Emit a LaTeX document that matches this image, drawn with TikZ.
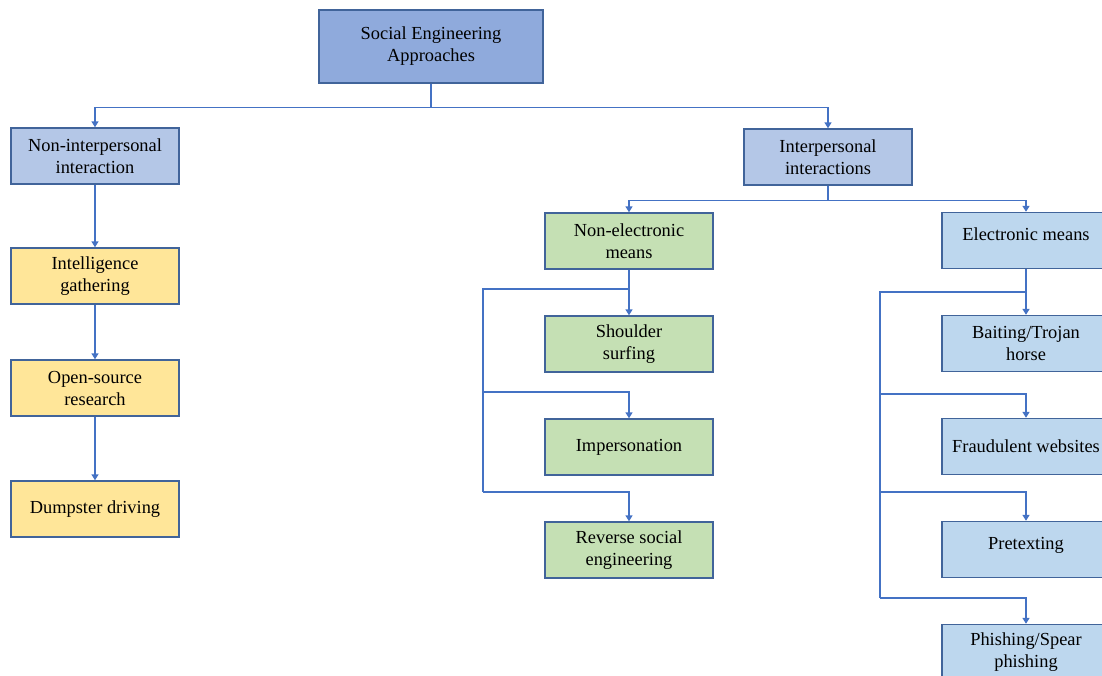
\documentclass[tikz,border=0pt]{standalone}
\usepackage{fontspec}
\setmainfont{Liberation Serif}
\usetikzlibrary{arrows.meta}

\definecolor{rootfill}{HTML}{8FAADC}
\definecolor{bluefill}{HTML}{B4C7E7}
\definecolor{yellowfill}{HTML}{FFE699}
\definecolor{greenfill}{HTML}{C5E0B4}
\definecolor{lightfill}{HTML}{BDD7EE}
\definecolor{edge}{HTML}{4472C4}
\definecolor{border}{HTML}{41649A}

\begin{document}
\begin{tikzpicture}[
    x=0.5pt, y={(0,-0.5pt)},
    font=\fontsize{9.2}{11}\selectfont,
    node distance=51.5pt,
    box/.style={
        rectangle,
        draw=border,
        line width=0.7pt,
        minimum width=84pt,
        minimum height=28pt,
        inner sep=2pt,
        align=center
    },
    line/.style={draw=edge, line width=0.7pt},
    arrow/.style={line, -{Triangle[width=3.5pt,length=3pt]}}
]
\useasboundingbox (0,0) rectangle (1102,675);
\clip (0,0) rectangle (1102,675);

% Nodes
\node[box, fill=rootfill, minimum width=112pt, minimum height=36.5pt] (SE) at (431,46.5) {Social Engineering\\ Approaches};
\node[box, fill=bluefill] (NI) at (95,156) {Non-interpersonal\\ interaction};
\node[box, fill=bluefill] (IP) at (828,157) {Interpersonal\\ interactions};

\node[box, fill=yellowfill, below of=NI, node distance=60pt] (IG) {Intelligence\\ gathering};
\node[box, fill=yellowfill, below of=IG, node distance=56pt] (OS) {Open-source\\ research};
\node[box, fill=yellowfill, below of=OS, node distance=60.5pt] (DD) {Dumpster driving};

\node[box, fill=greenfill] (NE) at (629,241) {Non-electronic\\ means};
\node[box, fill=greenfill, below of=NE] (SS) {Shoulder\\ surfing};
\node[box, fill=greenfill, below of=SS] (IM) {Impersonation};
\node[box, fill=greenfill, below of=IM] (RS) {Reverse social\\ engineering};

\node[box, fill=lightfill] (EM) at (1026,240.5) {Electronic means\rule[-6pt]{0pt}{6pt}};
\node[box, fill=lightfill, below of=EM] (BT) {Baiting/Trojan\\ horse};
\node[box, fill=lightfill, below of=BT] (FW) {Fraudulent websites};
\node[box, fill=lightfill, below of=FW] (PT) {Pretexting\rule[-6pt]{0pt}{6pt}};
\node[box, fill=lightfill, below of=PT] (PH) {Phishing/Spear\\ phishing};

% Spines
\coordinate (ne1) at (483,289);
\coordinate (ne2) at (483,392);
\coordinate (ne3) at (483,492);
\coordinate (el1) at (880,292);
\coordinate (el2) at (880,394);
\coordinate (el3) at (880,492);
\coordinate (el4) at (880,598);

% Arrows
\draw[arrow] (SE.south) -- ++(0,24) -| (NI.north);
\draw[arrow] (SE.south) -- ++(0,24) -| (IP.north);
\draw[arrow] (IP.south) -- ++(0,15) -| (NE.north);
\draw[arrow] (IP.south) -- ++(0,15) -| (EM.north);

\draw[arrow] (NI) -- (IG);
\draw[arrow] (IG) -- (OS);
\draw[arrow] (OS) -- (DD);

\draw[arrow] (NE) -- (SS);
\draw[line]  (NE.south |- ne1) -- (ne1) -- (ne3);
\draw[arrow] (ne2) -| (IM.north);
\draw[arrow] (ne3) -| (RS.north);

\draw[arrow] (EM) -- (BT);
\draw[line]  (EM.south |- el1) -- (el1) -- (el4);
\draw[arrow] (el2) -| (FW.north);
\draw[arrow] (el3) -| (PT.north);
\draw[arrow] (el4) -| (PH.north);

\end{tikzpicture}
\end{document}
